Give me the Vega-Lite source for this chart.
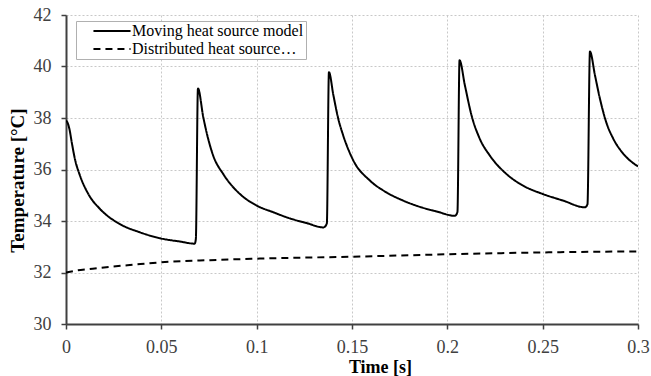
{
  "$schema": "https://vega.github.io/schema/vega-lite/v6.json",
  "width": 572,
  "height": 309,
  "autosize": {"type": "none"},
  "padding": {"left": 66, "top": 15, "right": 13, "bottom": 52},
  "background": "white",
  "config": {
    "font": "Liberation Serif",
    "view": {"stroke": null},
    "axis": {
      "grid": true,
      "gridColor": "#c8c8c8",
      "gridDash": [2, 2],
      "gridWidth": 1,
      "domainColor": "#404040",
      "domainWidth": 2,
      "tickColor": "#404040",
      "tickWidth": 1.5,
      "tickSize": 5,
      "labelFont": "Liberation Serif",
      "labelFontSize": 18,
      "labelColor": "#404040",
      "titleFont": "Liberation Serif",
      "titleFontWeight": "bold",
      "titleColor": "#000000"
    }
  },
  "data": {
    "values": [
      {"t": 0.0, "T": 37.9, "s": "Moving heat source model"},
      {"t": 0.0006, "T": 37.85, "s": "Moving heat source model"},
      {"t": 0.0018, "T": 37.57, "s": "Moving heat source model"},
      {"t": 0.003, "T": 37.06, "s": "Moving heat source model"},
      {"t": 0.0047, "T": 36.4, "s": "Moving heat source model"},
      {"t": 0.0073, "T": 35.77, "s": "Moving heat source model"},
      {"t": 0.0117, "T": 35.05, "s": "Moving heat source model"},
      {"t": 0.0178, "T": 34.47, "s": "Moving heat source model"},
      {"t": 0.0283, "T": 33.88, "s": "Moving heat source model"},
      {"t": 0.0388, "T": 33.56, "s": "Moving heat source model"},
      {"t": 0.0493, "T": 33.33, "s": "Moving heat source model"},
      {"t": 0.06, "T": 33.2, "s": "Moving heat source model"},
      {"t": 0.0675, "T": 33.12, "s": "Moving heat source model"},
      {"t": 0.0681, "T": 33.3, "s": "Moving heat source model"},
      {"t": 0.0692, "T": 39.15, "s": "Moving heat source model"},
      {"t": 0.072, "T": 38.03, "s": "Moving heat source model"},
      {"t": 0.0746, "T": 37.18, "s": "Moving heat source model"},
      {"t": 0.0772, "T": 36.54, "s": "Moving heat source model"},
      {"t": 0.0825, "T": 35.82, "s": "Moving heat source model"},
      {"t": 0.0912, "T": 35.05, "s": "Moving heat source model"},
      {"t": 0.1, "T": 34.6, "s": "Moving heat source model"},
      {"t": 0.1087, "T": 34.34, "s": "Moving heat source model"},
      {"t": 0.1175, "T": 34.1, "s": "Moving heat source model"},
      {"t": 0.1262, "T": 33.92, "s": "Moving heat source model"},
      {"t": 0.135, "T": 33.75, "s": "Moving heat source model"},
      {"t": 0.1368, "T": 33.9, "s": "Moving heat source model"},
      {"t": 0.1379, "T": 39.78, "s": "Moving heat source model"},
      {"t": 0.1402, "T": 38.9, "s": "Moving heat source model"},
      {"t": 0.1428, "T": 37.97, "s": "Moving heat source model"},
      {"t": 0.1454, "T": 37.32, "s": "Moving heat source model"},
      {"t": 0.1507, "T": 36.35, "s": "Moving heat source model"},
      {"t": 0.1594, "T": 35.57, "s": "Moving heat source model"},
      {"t": 0.1681, "T": 35.11, "s": "Moving heat source model"},
      {"t": 0.1769, "T": 34.79, "s": "Moving heat source model"},
      {"t": 0.1856, "T": 34.55, "s": "Moving heat source model"},
      {"t": 0.1944, "T": 34.37, "s": "Moving heat source model"},
      {"t": 0.204, "T": 34.2, "s": "Moving heat source model"},
      {"t": 0.2053, "T": 34.35, "s": "Moving heat source model"},
      {"t": 0.2064, "T": 40.24, "s": "Moving heat source model"},
      {"t": 0.2092, "T": 39.27, "s": "Moving heat source model"},
      {"t": 0.2127, "T": 38.1, "s": "Moving heat source model"},
      {"t": 0.2171, "T": 37.18, "s": "Moving heat source model"},
      {"t": 0.2223, "T": 36.54, "s": "Moving heat source model"},
      {"t": 0.2311, "T": 35.82, "s": "Moving heat source model"},
      {"t": 0.2398, "T": 35.37, "s": "Moving heat source model"},
      {"t": 0.25, "T": 35.05, "s": "Moving heat source model"},
      {"t": 0.2608, "T": 34.79, "s": "Moving heat source model"},
      {"t": 0.2722, "T": 34.53, "s": "Moving heat source model"},
      {"t": 0.2735, "T": 34.65, "s": "Moving heat source model"},
      {"t": 0.2748, "T": 40.58, "s": "Moving heat source model"},
      {"t": 0.2774, "T": 39.67, "s": "Moving heat source model"},
      {"t": 0.28, "T": 38.76, "s": "Moving heat source model"},
      {"t": 0.2835, "T": 37.8, "s": "Moving heat source model"},
      {"t": 0.287, "T": 37.2, "s": "Moving heat source model"},
      {"t": 0.2922, "T": 36.62, "s": "Moving heat source model"},
      {"t": 0.3, "T": 36.12, "s": "Moving heat source model"},
      {"t": 0.0, "T": 32.0, "s": "Distributed heat source…"},
      {"t": 0.005, "T": 32.07, "s": "Distributed heat source…"},
      {"t": 0.012, "T": 32.13, "s": "Distributed heat source…"},
      {"t": 0.023, "T": 32.22, "s": "Distributed heat source…"},
      {"t": 0.035, "T": 32.3, "s": "Distributed heat source…"},
      {"t": 0.049, "T": 32.39, "s": "Distributed heat source…"},
      {"t": 0.0755, "T": 32.48, "s": "Distributed heat source…"},
      {"t": 0.1017, "T": 32.54, "s": "Distributed heat source…"},
      {"t": 0.154, "T": 32.62, "s": "Distributed heat source…"},
      {"t": 0.2014, "T": 32.71, "s": "Distributed heat source…"},
      {"t": 0.25, "T": 32.78, "s": "Distributed heat source…"},
      {"t": 0.3, "T": 32.82, "s": "Distributed heat source…"}
    ]
  },
  "mark": {"type": "line", "color": "black", "strokeWidth": 2, "clip": true, "interpolate": "monotone"},
  "encoding": {
    "x": {
      "field": "t",
      "type": "quantitative",
      "scale": {"domain": [0, 0.3], "nice": false, "zero": false},
      "axis": {
        "title": "Time [s]",
        "values": [0, 0.05, 0.1, 0.15, 0.2, 0.25, 0.3],
        "format": "~g",
        "labelFont": "Liberation Serif",
        "labelBaseline": "alphabetic",
        "labelPadding": 23,
        "labelFlush": false,
        "titleFontSize": 18,
        "titleX": 314,
        "titleY": 48,
        "titleBaseline": "alphabetic"
      }
    },
    "y": {
      "field": "T",
      "type": "quantitative",
      "scale": {"domain": [30, 42], "nice": false, "zero": false},
      "axis": {
        "title": "Temperature [°C]",
        "values": [30, 32, 34, 36, 38, 40, 42],
        "labelFont": "Liberation Serif",
        "labelPadding": 10,
        "labelFlush": false,
        "titleFontSize": 19,
        "titleX": -43,
        "titleY": 165,
        "titleBaseline": "alphabetic",
        "titleAngle": -90
      }
    },
    "strokeDash": {
      "field": "s",
      "type": "nominal",
      "scale": {
        "domain": ["Moving heat source model", "Distributed heat source…"],
        "range": [[1, 0], [7, 5]]
      },
      "legend": {
        "title": null,
        "orient": "none",
        "legendX": 10,
        "legendY": 6,
        "padding": 2,
        "strokeColor": "#b0b0b0",
        "fillColor": "white",
        "symbolType": "M-4,0H4",
        "symbolSize": 86,
        "symbolStrokeWidth": 1.8,
        "symbolStrokeColor": "black",
        "symbolFillColor": "transparent",
        "symbolOffset": 26,
        "labelOffset": 12,
        "labelFont": "Liberation Serif",
        "labelFontSize": 16,
        "labelColor": "black",
        "labelLimit": 300,
        "rowPadding": 2
      }
    }
  }
}
